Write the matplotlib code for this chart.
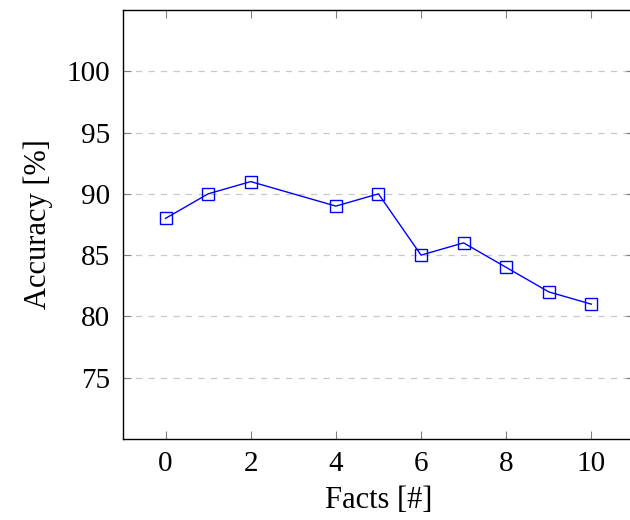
import matplotlib
matplotlib.use("Agg")
import matplotlib.pyplot as plt

facts = [0, 1, 2, 4, 5, 6, 7, 8, 9, 10]
accuracy = [88, 90, 91, 89, 90, 85, 86, 84, 82, 81]
xticks = [0, 2, 4, 6, 8, 10]
yticks = [75, 80, 85, 90, 95, 100]

plt.rcParams['font.family'] = ['Liberation Serif', 'DejaVu Serif']

fig = plt.figure(figsize=(6.3, 5.2), dpi=100)
ax = fig.add_axes([0.1952, 0.1558, 0.811, 0.825])

ax.plot(facts, accuracy, color='blue', lw=1, marker='s', ms=9,
        mfc='none', mec='blue', mew=1, zorder=3)

ax.set_xlim(-1, 11)
ax.set_ylim(70, 105)
ax.set_xticks(xticks)
ax.set_yticks(yticks)
ax.yaxis.grid(True, ls=(0, (5, 5)), color='#c8c8c8', lw=0.9)
ax.tick_params(direction='in', length=6, color='#808080', labelsize=21,
               top=True, right=True, pad=9)
for s in ax.spines.values():
    s.set_linewidth(1)

ax.set_xlabel('Facts [#]', fontsize=22, labelpad=6)
ax.set_ylabel('Accuracy [%]', fontsize=22, labelpad=10)

fig.savefig('out.png', dpi=100)
